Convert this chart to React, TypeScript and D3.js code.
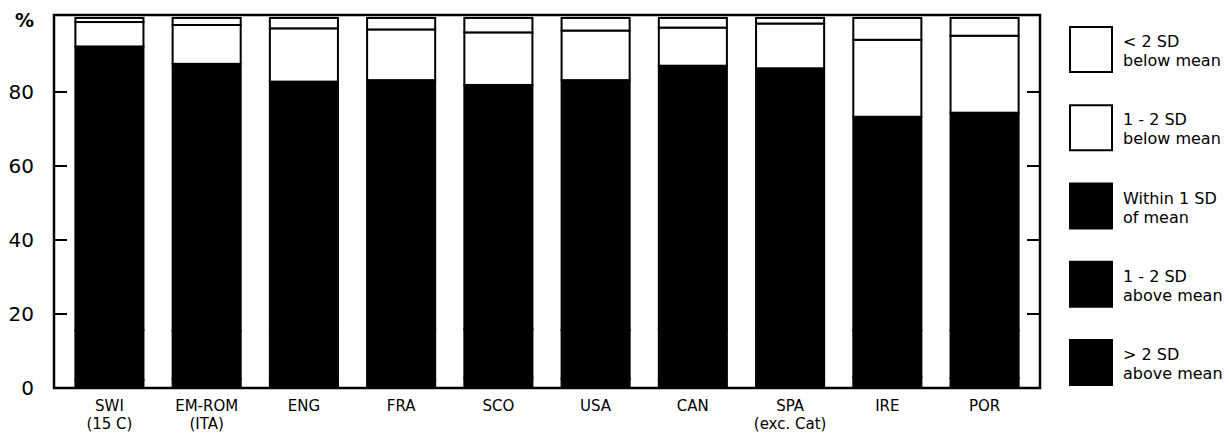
import React from "react";
import * as d3 from "d3";

const categories: string[][] = [
  ["SWI", "(15 C)"],
  ["EM-ROM", "(ITA)"],
  ["ENG"],
  ["FRA"],
  ["SCO"],
  ["USA"],
  ["CAN"],
  ["SPA", "(exc. Cat)"],
  ["IRE"],
  ["POR"],
];

// Stacked from bottom to top (percent)
const above2SD = [2.1, 2.4, 2.6, 2.3, 2.8, 2.5, 2.2, 2.0, 3.0, 2.7];
const above1to2SD = [13.5, 13.0, 12.8, 13.4, 13.1, 13.2, 13.7, 13.5, 12.5, 12.9];
const within1SD = [76.7, 72.2, 67.4, 67.5, 66.0, 67.5, 71.2, 70.9, 57.8, 58.8];
const below1to2SD = [6.6, 10.5, 14.4, 13.7, 14.2, 13.4, 10.3, 12.1, 20.8, 20.8];
const below2SD = [1.1, 1.9, 2.8, 3.1, 3.9, 3.4, 2.6, 1.5, 5.9, 4.8];

const yTicks = [0, 20, 40, 60, 80];

const legendItems = [
  { lines: ["< 2 SD", "below mean"], fill: "#fff" },
  { lines: ["1 - 2 SD", "below mean"], fill: "#fff" },
  { lines: ["Within 1 SD", "of mean"], fill: "#000" },
  { lines: ["1 - 2 SD", "above mean"], fill: "#000" },
  { lines: ["> 2 SD", "above mean"], fill: "#000" },
];

const seriesDefs = [
  { key: "above2", values: above2SD, fill: "#000" },
  { key: "above1to2", values: above1to2SD, fill: "#000" },
  { key: "within1", values: within1SD, fill: "#000" },
  { key: "below1to2", values: below1to2SD, fill: "#fff" },
  { key: "below2", values: below2SD, fill: "#fff" },
];

const FONT = "'DejaVu Sans', 'Liberation Sans', Arial, sans-serif";

export default function App() {
  const W = 1230;
  const H = 444;
  const left = 54;
  const right = 1040;
  const top = 15;
  const bottom = 388;

  const keys = categories.map((c) => c.join(" "));
  const x = d3.scaleBand<string>().domain(keys).range([left, right]).paddingInner(0.3).paddingOuter(0.22);
  const y = d3.scaleLinear().domain([0, 100.8]).range([bottom, top]);

  const rows = keys.map((k, i) => {
    const r: any = { key: k };
    seriesDefs.forEach((s) => (r[s.key] = s.values[i]));
    return r;
  });
  const stack = d3.stack<any>().keys(seriesDefs.map((s) => s.key));
  const stacked = stack(rows);

  const legendY = d3.scaleLinear().domain([0, legendItems.length - 1]).range([27, 340]);

  return (
    <svg
      width={W}
      height={H}
      style={{ display: "block", position: "absolute", left: 0, top: 0 }}
      fontFamily={FONT}
    >
      <rect x={0} y={0} width={W} height={H} fill="#fff" />
      {/* bars */}
      {stacked.map((layer, li) => (
        <g key={layer.key}>
          {layer.map((d, i) => (
            <rect
              key={i}
              x={x(keys[i])!}
              y={y(d[1])}
              width={x.bandwidth()}
              height={y(d[0]) - y(d[1])}
              fill={seriesDefs[li].fill}
              stroke="#000"
              strokeWidth={2}
            />
          ))}
        </g>
      ))}
      {/* frame */}
      <rect x={left} y={top} width={right - left} height={bottom - top} fill="none" stroke="#000" strokeWidth={2.5} />
      {/* ticks */}
      {yTicks.filter((t) => t > 0).map((t) => (
        <g key={t}>
          <line x1={left} x2={left + 13} y1={y(t)} y2={y(t)} stroke="#000" strokeWidth={2} />
          <line x1={right - 13} x2={right} y1={y(t)} y2={y(t)} stroke="#000" strokeWidth={2} />
        </g>
      ))}
      {yTicks.map((t) => (
        <text key={t} x={34} y={y(t)} dy="0.36em" textAnchor="end" fontSize={20} fill="#000">
          {t}
        </text>
      ))}
      <text x={34} y={27} textAnchor="end" fontSize={19} fontWeight="bold" fill="#000">%</text>
      {/* x labels */}
      {categories.map((lines, i) =>
        lines.map((l, j) => (
          <text
            key={`${i}-${j}`}
            x={x(keys[i])! + x.bandwidth() / 2}
            y={411 + j * 17.5}
            textAnchor="middle"
            fontSize={15}
            fill="#000"
          >
            {l}
          </text>
        ))
      )}
      {/* legend */}
      {legendItems.map((it, i) => (
        <g key={i} transform={`translate(1070,${legendY(i)})`}>
          <rect x={0} y={0} width={42} height={45} fill={it.fill} stroke="#000" strokeWidth={2} />
          <text x={53} y={20} fontSize={16} fill="#000">{it.lines[0]}</text>
          <text x={53} y={39} fontSize={16} fill="#000">{it.lines[1]}</text>
        </g>
      ))}
    </svg>
  );
}
